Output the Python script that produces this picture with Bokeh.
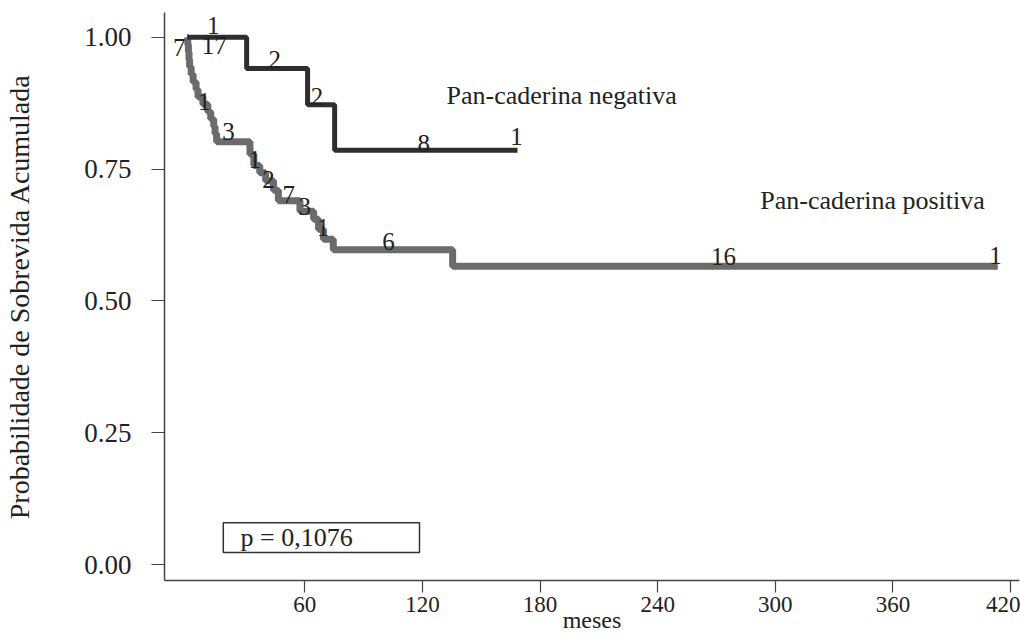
from bokeh.plotting import figure
from bokeh.models import FixedTicker
from bokeh.core.properties import value
from bokeh.embed import file_html
from bokeh.resources import INLINE

# ---- data ----
neg_t = [0, 30.3, 61.4, 75.2, 168.5]
neg_s = [1.0, 0.941, 0.872, 0.786, 0.786]

pos_t = [0, 0.3, 0.6, 0.9, 1.2, 2.0, 3.0, 4.5, 5.5, 8.0, 10.5, 12.0, 13.5, 14.2, 15.0,
         32, 34, 37, 40, 44, 46.5, 57.5, 64.5, 67, 69.5, 74.5, 135.4, 413.5]
pos_s = [1.0, 0.986, 0.972, 0.958, 0.944, 0.930, 0.915, 0.901, 0.887, 0.873, 0.859,
         0.845, 0.831, 0.817, 0.802, 0.778, 0.757, 0.743, 0.728, 0.710, 0.690, 0.670,
         0.655, 0.636, 0.617, 0.597, 0.566, 0.566]

neg_lbl_t = [13.3, 13.8, 44.6, 66.2, 120.6, 168.0]
neg_lbl_s = [1.023, 0.985, 0.957, 0.887, 0.799, 0.812]
neg_lbl = ["1", "17", "2", "2", "8", "1"]

pos_lbl_t = [-4.1, 8.7, 21.0, 34.4, 41.5, 51.8, 60.0, 69.2, 102.7, 273.6, 412.4]
pos_lbl_s = [0.981, 0.878, 0.821, 0.768, 0.731, 0.702, 0.680, 0.640, 0.612, 0.584, 0.586]
pos_lbl = ["7", "1", "3", "1", "2", "7", "3", "1", "6", "16", "1"]

x_ticks = [60, 120, 180, 240, 300, 360, 420]
y_ticks = [0.0, 0.25, 0.5, 0.75, 1.0]
y_tick_labels = ["0.00", "0.25", "0.50", "0.75", "1.00"]

group_names = ["Pan-caderina negativa", "Pan-caderina positiva"]
group_t = [191.0, 349.6]
group_s = [0.890, 0.691]

p_text = "p = 0,1076"

FONT = "Liberation Serif"
TXT = "#222222"

p = figure(width=1020, height=643, output_backend="svg", toolbar_location=None,
           x_range=(-11.6, 424.6), y_range=(-0.030, 1.047),
           min_border_left=164, min_border_right=1, min_border_top=12, min_border_bottom=63)
p.outline_line_color = None
p.grid.visible = False
p.background_fill_color = "white"

# axes
p.xaxis.ticker = FixedTicker(ticks=x_ticks)
p.yaxis.ticker = FixedTicker(ticks=y_ticks)
p.yaxis.major_label_overrides = {t: l for t, l in zip(y_ticks, y_tick_labels)}
for ax in (p.xaxis[0], p.yaxis[0]):
    ax.axis_line_color = "#444444"
    ax.axis_line_width = 1.5
    ax.major_tick_line_color = "#444444"
    ax.major_tick_line_width = 1.2
    ax.major_tick_in = 0
    ax.minor_tick_line_color = None
    ax.major_label_text_font = FONT
    ax.major_label_text_color = TXT
    ax.axis_label_text_font = FONT
    ax.axis_label_text_font_style = "normal"
    ax.axis_label_text_color = TXT
p.yaxis.major_label_text_font_size = "27px"
p.xaxis.major_label_text_font_size = "23px"
p.yaxis.major_tick_out = 13
p.yaxis.major_label_standoff = 20
p.xaxis.major_tick_out = 12
p.xaxis.major_label_standoff = 4
p.yaxis.axis_label = "Probabilidade de Sobrevida Acumulada"
p.yaxis.axis_label_text_font_size = "28px"
p.yaxis.axis_label_standoff = 46
p.xaxis.axis_label = "meses"
p.xaxis.axis_label_text_font_size = "24px"
p.xaxis.axis_label_standoff = -8

# curves
p.step(pos_t, pos_s, mode="after", line_color="#6b6b6b", line_width=7)
p.step(neg_t, neg_s, mode="after", line_color="#2e2e2e", line_width=5)

# numbers on curves
p.text(x=neg_lbl_t, y=neg_lbl_s, text=neg_lbl, text_font=value(FONT),
       text_font_size="25px", text_color=TXT, text_align="center", text_baseline="middle")
p.text(x=pos_lbl_t, y=pos_lbl_s, text=pos_lbl, text_font=value(FONT),
       text_font_size="25px", text_color=TXT, text_align="center", text_baseline="middle")

# group labels
p.text(x=group_t, y=group_s, text=group_names, text_font=value(FONT),
       text_font_size="26px", text_color=TXT, text_align="center", text_baseline="middle")

# p-value box
p.quad(left=[18.4], right=[118.5], bottom=[0.0233], top=[0.0797],
       fill_color="white", line_color="#333333", line_width=1.5)
p.text(x=[27.2], y=[0.051], text=[p_text], text_font=value(FONT), text_font_size="26px",
       text_color=TXT, text_align="left", text_baseline="middle")

open("out.html", "w").write(file_html(p, INLINE))
